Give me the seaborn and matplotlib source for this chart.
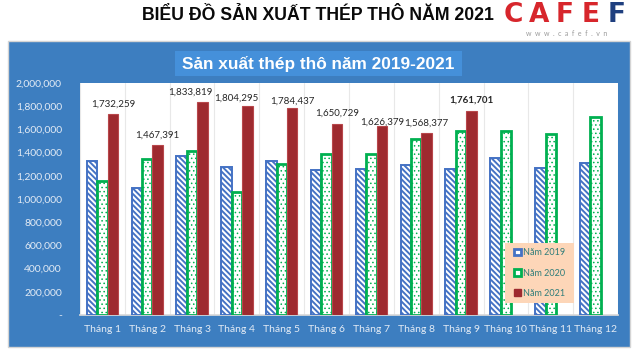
import pandas as pd
import seaborn as sns
import matplotlib.pyplot as plt
from matplotlib.patches import Rectangle, Patch
from matplotlib.ticker import FuncFormatter, FixedLocator

# số liệu (tấn)
months = ['Tháng %d' % i for i in range(1, 13)]
years = ['Năm 2019', 'Năm 2020', 'Năm 2021']
san_luong_2019 = [1330000, 1095000, 1373000, 1278000, 1328000, 1250000,
                  1260000, 1295000, 1260000, 1350000, 1268000, 1308000]
san_luong_2020 = [1155000, 1345000, 1414000, 1063000, 1305000, 1387000,
                  1387000, 1517000, 1590000, 1590000, 1560000, 1705000]
san_luong_2021 = [1732259, 1467391, 1833819, 1804295, 1784437, 1650729,
                  1626379, 1568377, 1761701]
y_ticks = list(range(0, 2000001, 200000))

BLUE_PANEL = '#3D7EC0'
BLUE_TITLE = '#4590DA'
C2019 = '#4472C4'
C2020 = '#00B050'
C2021 = '#9E2A2F'


def build_frame():
    rows = []
    for name, vals in zip(years, [san_luong_2019, san_luong_2020, san_luong_2021]):
        for m, v in zip(months, vals):
            rows.append({'Tháng': m, 'Năm': name, 'Sản lượng': v})
    return pd.DataFrame(rows)


def set_hatch_lw(bar, lw):
    if hasattr(bar, 'set_hatch_linewidth'):
        bar.set_hatch_linewidth(lw)
    else:
        bar._hatch_linewidth = lw


def main():
    df = build_frame()
    sns.set_theme(style='white')
    plt.rcParams['font.family'] = ['Lato', 'DejaVu Sans']
    plt.rcParams['hatch.linewidth'] = 1.4

    fig = plt.figure(figsize=(6.4, 3.54), dpi=100)
    fig.patch.set_facecolor('white')
    W, H = 640, 354

    # khung nền xanh
    fig.patches.append(Rectangle((8 / W, 1 - 347 / H), 622 / W, 306 / H,
                                 transform=fig.transFigure, facecolor=BLUE_PANEL,
                                 edgecolor='#D4D4D4', linewidth=1, zorder=-2))
    fig.patches.append(Rectangle((175 / W, 1 - 76 / H), 287 / W, 25 / H,
                                 transform=fig.transFigure, facecolor=BLUE_TITLE,
                                 edgecolor='none', zorder=-1))
    fig.text(318 / W, 1 - 63.5 / H, 'Sản xuất thép thô năm 2019-2021', color='white',
             fontsize=12.4, fontweight='bold', ha='center', va='center',
             family=['Liberation Sans', 'DejaVu Sans'], zorder=2)

    fig.text(318 / W, 1 - 16 / H, 'BIỂU ĐỒ SẢN XUẤT THÉP THÔ NĂM 2021', color='#0A0A0A',
             fontsize=12.7, fontweight='bold', ha='center', va='center',
             family=['Liberation Sans', 'DejaVu Sans'])
    # logo CafeF
    for i, (ch, col) in enumerate(zip('CAFEF', ['#D7262C'] * 4 + ['#1F3F7F'])):
        fig.text((513 + i * 26) / W, 1 - 15 / H, ch, color=col, fontsize=19,
                 fontweight='heavy', ha='center', va='center',
                 family=['DejaVu Sans'])
    fig.text(567 / W, 1 - 33 / H, 'w  w  w  .  c  a  f  e  f  .  v  n', color='#9A9A9A',
             fontsize=5, ha='center', va='center')

    ax = fig.add_axes([80 / W, 1 - 315 / H, 538 / W, 232 / H])
    ax.set_zorder(3)
    ax.set_facecolor('white')
    sns.barplot(data=df, x='Tháng', y='Sản lượng', hue='Năm', order=months,
                hue_order=years, palette=[C2019, C2020, C2021], width=0.7,
                saturation=1, ax=ax, legend=False, zorder=3)

    cont = ax.containers
    for bar in cont[0]:
        bar.set_facecolor('white')
        bar.set_edgecolor(C2019)
        bar.set_hatch('\\\\\\\\\\\\')
        bar.set_linewidth(1.4)
    for bar in cont[1]:
        bar.set_facecolor('white')
        bar.set_edgecolor(C2020)
        bar.set_hatch('....')
        set_hatch_lw(bar, 0.6)
        bar.set_linewidth(2.0)
    for bar in cont[2]:
        bar.set_facecolor(C2021)
        bar.set_edgecolor('#B8474B')
        bar.set_linewidth(0.8)

    texts = ax.bar_label(cont[2], labels=[f'{v:,.0f}' for v in san_luong_2021],
                         padding=4, fontsize=7, color='#262626')
    texts[8].set_fontweight('bold')
    # Excel dời vài nhãn để khỏi chồng nhau
    texts[2].xyann = (-8.5, 4)
    texts[3].xyann = (-8, 2.5)
    texts[4].xyann = (0, 2)
    texts[6].xyann = (0, 0)

    ax.set_ylim(0, 2000000)
    ax.yaxis.set_major_locator(FixedLocator(y_ticks))
    ax.yaxis.set_major_formatter(FuncFormatter(lambda v, p: '-' if v == 0 else f'{v:,.0f}'))
    ax.set_xlim(-0.5, 11.5)
    ax.xaxis.set_minor_locator(FixedLocator([i + 0.5 for i in range(-1, 12)]))
    ax.grid(which='minor', axis='x', color='#E8E8E8', linewidth=0.8)
    ax.set_axisbelow(True)
    ax.tick_params(axis='y', length=0, pad=13, labelsize=7.5, colors='#E3EBF5')
    ax.tick_params(axis='x', which='both', length=0, pad=7, labelsize=7.5, colors='#E3EBF5')
    ax.set_xlabel('')
    ax.set_ylabel('')
    for side in ['top', 'right', 'left']:
        ax.spines[side].set_visible(False)
    ax.spines['bottom'].set_color('#D9D9D9')

    # chú thích
    ax.add_patch(Rectangle((0.79, 0.052), 0.129, 0.258, transform=ax.transAxes,
                           facecolor='#FDD6B8', edgecolor='none', zorder=5))
    handles = [Patch(facecolor='white', edgecolor=C2019, linewidth=2),
               Patch(facecolor='white', edgecolor=C2020, linewidth=2),
               Patch(facecolor=C2021, edgecolor=C2021)]
    leg = ax.legend(handles, years, loc='center', bbox_to_anchor=(0.855, 0.181),
                    frameon=False, fontsize=6.5, handlelength=0.7, handleheight=0.7,
                    handletextpad=0.3, labelspacing=1.25)
    leg.set_zorder(6)
    for t in leg.get_texts():
        t.set_color('#2F7D7A')

    fig.savefig('out.png', dpi=100)
    plt.close(fig)


if __name__ == '__main__':
    main()
